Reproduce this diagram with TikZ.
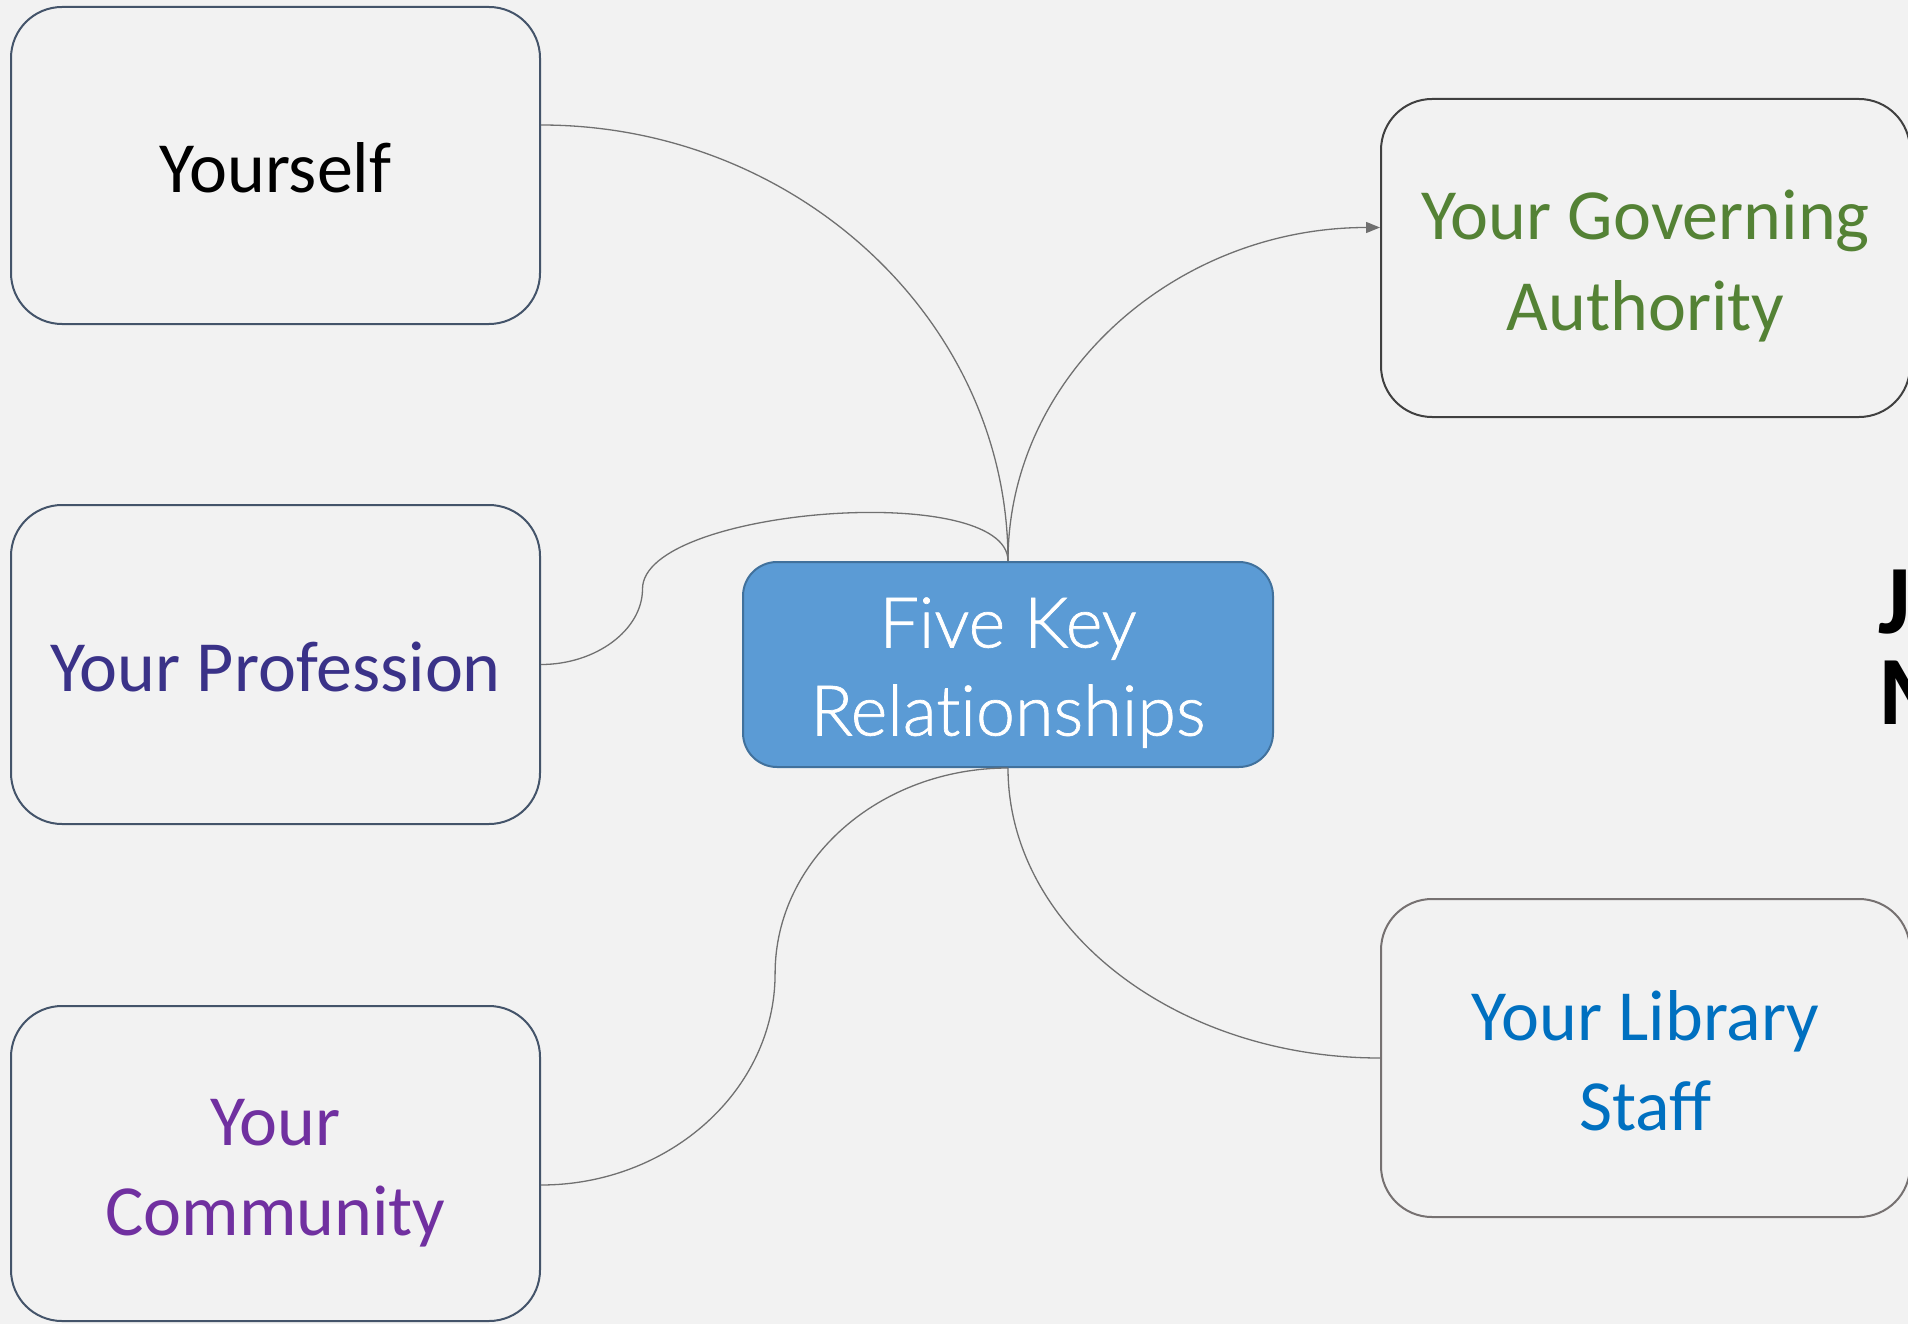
\documentclass[tikz,border=0pt]{standalone}
\usepackage{fontspec}
\setmainfont{Carlito}
\newfontfamily\lightfont{Lato Light}[FakeBold=1]
\usetikzlibrary{arrows.meta,calc}
\definecolor{bg}{HTML}{F2F2F2}
\definecolor{slate}{HTML}{44546A}
\definecolor{govborder}{HTML}{404040}
\definecolor{libborder}{HTML}{767171}
\definecolor{profcol}{HTML}{3A3288}
\definecolor{govcol}{HTML}{548235}
\definecolor{comcol}{HTML}{7030A0}
\definecolor{libcol}{HTML}{0070C0}
\definecolor{centerfill}{HTML}{5B9BD5}
\definecolor{centerborder}{HTML}{41719C}
\definecolor{linkcol}{HTML}{707070}
\newcommand\bxtop{\rule{0pt}{80pt}}
\newcommand\bxbot{\rule[-26pt]{0pt}{26pt}}
\tikzset{
  boxnode/.style={draw=slate, line width=2pt, rounded corners=51pt, fill=bg,
    minimum width=529pt, minimum height=317pt, align=center,
    font=\fontsize{72}{90}\selectfont, inner sep=0pt},
  centernode/.style={draw=centerborder, line width=2pt, rounded corners=34pt, fill=centerfill,
    minimum width=530pt, minimum height=205pt, align=center, text=white,
    font=\lightfont\fontsize{70}{88}\selectfont, inner sep=0pt},
  link/.style={draw=linkcol, line width=1.3pt},
  titlenode/.style={anchor=base west, inner sep=0pt, font=\fontsize{98}{98}\selectfont\bfseries}
}
\begin{document}
\begin{tikzpicture}[x=1pt,y=-1pt]
\path[use as bounding box, fill=bg] (0,0) rectangle (1908,1324);
\begin{scope}
\clip (0,0) rectangle (1908,1324);
\node[boxnode, minimum height=317pt] (yourself) at (275.5,165.5) {\bxtop Yourself\bxbot};
\node[boxnode, minimum height=319pt, text=profcol] (profession) at (275.5,664.5) {\bxtop Your Profession\bxbot};
\node[boxnode, minimum height=315pt, text=comcol] (community) at (275.5,1163.5) {\bxtop Your\\Community\bxbot};
\node[boxnode, draw=govborder, minimum height=318pt, text=govcol] (governing) at (1645.5,258) {\bxtop Your Governing\\Authority\bxbot};
\node[boxnode, draw=libborder, minimum height=318pt, text=libcol] (library) at (1645.5,1058) {\bxtop Your Library\\Staff\bxbot};
\node[centernode] (center) at (1008,664.5) {\bxtop Five Key\\Relat\kern0pt ionships\bxbot};
\node[titlenode] (tj) at (1878,633) {J};
\node[titlenode] (tm) at (1878,724) {M};

\coordinate (yl) at (0,125);
\coordinate (gl) at (0,227.5);
\coordinate (cl) at (0,1185);
\coordinate (ya) at (yourself.east |- yl);
\coordinate (ga) at (governing.west |- gl);
\coordinate (ca) at (community.east |- cl);
\coordinate (pm) at (642.5,588.9);
\coordinate (cm) at (775.1,973.4);

% Yourself
\draw[link] (ya) .. controls ($(ya)+(256,0)$) and ($(center.north)+(0,-240)$) .. (center.north);
% Governing
\draw[link, -{Triangle[length=14pt,width=11pt]}] (center.north) .. controls ($(center.north)+(0,-185)$) and ($(ga)+(-205,0)$) .. (ga);
% Profession
\draw[link] (profession.east) .. controls ($(profession.east)+(55,0)$) and ($(pm)+(0,41)$) .. (pm)
  .. controls ($(pm)+(0,-81)$) and ($(center.north)+(0,-81)$) .. (center.north);
% Community
\draw[link] (center.south) .. controls ($(center.south)+(-128,0)$) and ($(cm)+(0,-114)$) .. (cm)
  .. controls ($(cm)+(0,117)$) and ($(ca)+(128,0)$) .. (ca);
% Library
\draw[link] (center.south) .. controls ($(center.south)+(0,160)$) and ($(library.west)+(-205,0)$) .. (library.west);
\end{scope}
\end{tikzpicture}
\end{document}
